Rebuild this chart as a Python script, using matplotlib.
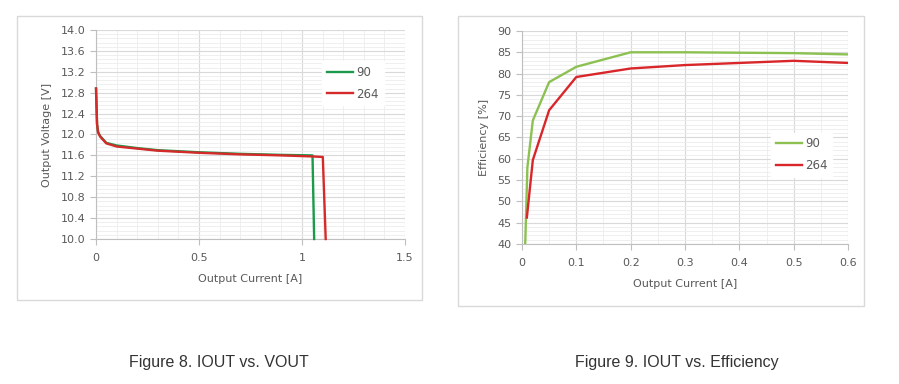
import matplotlib.pyplot as plt
from matplotlib.patches import Rectangle
from matplotlib.ticker import MultipleLocator

# Figure 8 data: output current [A] vs output voltage [V]
iout_90 = [0.0, 0.005, 0.01, 0.02, 0.05, 0.1, 0.2, 0.3, 0.5, 0.7, 0.9, 1.051, 1.059]
vout_90 = [12.88, 12.2, 12.05, 11.97, 11.84, 11.79, 11.74, 11.70, 11.66, 11.63, 11.61, 11.60, 10.0]
iout_264 = [0.0, 0.005, 0.01, 0.02, 0.05, 0.1, 0.2, 0.3, 0.5, 0.7, 0.9, 1.05, 1.101, 1.115]
vout_264 = [12.88, 12.2, 12.04, 11.96, 11.83, 11.77, 11.73, 11.69, 11.65, 11.62, 11.60, 11.58, 11.57, 10.0]

# Figure 9 data: output current [A] vs efficiency [%]
ieff_90 = [0.006, 0.01, 0.02, 0.05, 0.1, 0.2, 0.3, 0.4, 0.5, 0.6]
eff_90 = [40.0, 58.0, 69.0, 78.0, 81.6, 85.0, 85.0, 84.9, 84.8, 84.5]
ieff_264 = [0.009, 0.02, 0.05, 0.1, 0.2, 0.3, 0.4, 0.5, 0.6]
eff_264 = [46.2, 59.7, 71.4, 79.2, 81.2, 82.0, 82.5, 83.0, 82.5]

txt = '#595959'
plt.rcParams['font.family'] = 'DejaVu Sans'
plt.rcParams['font.size'] = 8

fig = plt.figure(figsize=(8.99, 3.84), dpi=100)

# panel frames
fig.patches.append(Rectangle((0.0189, 0.2188), 0.4505, 0.7395, transform=fig.transFigure,
                             fill=False, edgecolor='#d9d9d9', lw=1))
fig.patches.append(Rectangle((0.5095, 0.2031), 0.4516, 0.7552, transform=fig.transFigure,
                             fill=False, edgecolor='#d9d9d9', lw=1))


def style(ax):
    ax.grid(which='major', color='#d9d9d9', lw=0.8)
    ax.grid(which='minor', color='#ececec', lw=0.6)
    ax.set_axisbelow(True)
    for s in ['top', 'right']:
        ax.spines[s].set_visible(False)
    for s in ['left', 'bottom']:
        ax.spines[s].set_color('#bfbfbf')
    ax.tick_params(which='major', colors='#bfbfbf', labelcolor=txt, length=4, labelsize=8)
    ax.tick_params(which='minor', length=0)
    ax.tick_params(axis='x', pad=6)
    ax.xaxis.set_major_formatter(plt.FuncFormatter(lambda v, p: f'{v:g}'))


def legend(ax, anchor):
    leg = ax.legend(loc='upper right', bbox_to_anchor=anchor, frameon=True, edgecolor='white',
                    framealpha=1, fancybox=False, handlelength=2.2, handletextpad=0.3,
                    labelspacing=0.75, fontsize=8.5)
    for t in leg.get_texts():
        t.set_color(txt)


ax1 = fig.add_axes([0.1068, 0.3776, 0.3437, 0.5443])
ax1.plot(iout_90, vout_90, color='#1a9a4a', lw=1.7, label='90', zorder=3, clip_on=False)
ax1.plot(iout_264, vout_264, color='#d42a2a', lw=1.7, label='264', zorder=3, clip_on=False)
ax1.set_xlim(0, 1.5)
ax1.set_ylim(10.0, 14.0)
ax1.xaxis.set_major_locator(MultipleLocator(0.5))
ax1.xaxis.set_minor_locator(MultipleLocator(0.1))
ax1.yaxis.set_major_locator(MultipleLocator(0.4))
ax1.yaxis.set_minor_locator(MultipleLocator(0.08))
style(ax1)
ax1.yaxis.set_major_formatter(plt.FuncFormatter(lambda v, p: f'{v:.1f}'))
ax1.set_xlabel('Output Current [A]', color=txt, fontsize=8, labelpad=8)
ax1.set_ylabel('Output Voltage [V]', color=txt, fontsize=8, labelpad=6)
legend(ax1, (0.95, 0.88))

ax2 = fig.add_axes([0.5806, 0.3646, 0.3627, 0.5547])
ax2.plot(ieff_90, eff_90, color='#8cc152', lw=1.7, label='90', zorder=3)
ax2.plot(ieff_264, eff_264, color='#d9262a', lw=1.7, label='264', zorder=3)
ax2.set_xlim(0, 0.6)
ax2.set_ylim(40, 90)
ax2.xaxis.set_major_locator(MultipleLocator(0.1))
ax2.xaxis.set_minor_locator(MultipleLocator(0.05))
ax2.yaxis.set_major_locator(MultipleLocator(5))
ax2.yaxis.set_minor_locator(MultipleLocator(1))
style(ax2)
ax2.set_xlabel('Output Current [A]', color=txt, fontsize=8, labelpad=8)
ax2.set_ylabel('Efficiency [%]', color=txt, fontsize=8, labelpad=6)
legend(ax2, (0.97, 0.55))

fig.text(0.2436, 0.057, 'Figure 8. IOUT vs. VOUT', ha='center', va='center',
         family='Liberation Sans', fontsize=11.5, color='#333333')
fig.text(0.753, 0.057, 'Figure 9. IOUT vs. Efficiency', ha='center', va='center',
         family='Liberation Sans', fontsize=11.5, color='#333333')

fig.savefig('out.png', dpi=100)
